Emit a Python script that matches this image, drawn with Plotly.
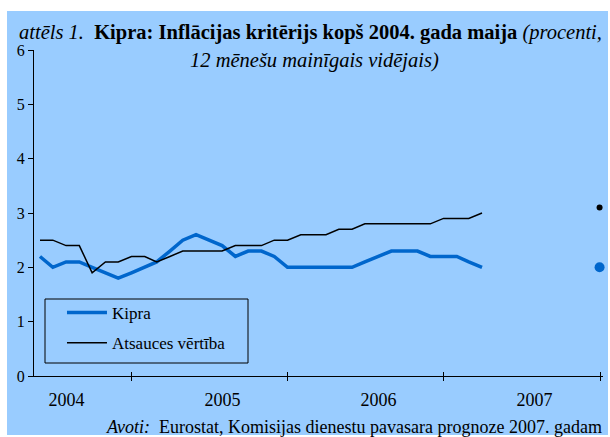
import pandas as pd
import plotly.graph_objects as go

# ---- data ----
months = pd.date_range("2004-05-31", periods=35, freq="ME")
kipra = [2.2, 2.0, 2.1, 2.1, 2.0, 1.9, 1.8, 1.9, 2.0, 2.1,
         2.3, 2.5, 2.6, 2.5, 2.4, 2.2, 2.3, 2.3, 2.2, 2.0,
         2.0, 2.0, 2.0, 2.0, 2.0, 2.1, 2.2, 2.3, 2.3, 2.3,
         2.2, 2.2, 2.2, 2.1, 2.0]
atsauces = [2.5, 2.5, 2.4, 2.4, 1.9, 2.1, 2.1, 2.2, 2.2, 2.1,
            2.2, 2.3, 2.3, 2.3, 2.3, 2.4, 2.4, 2.4, 2.5, 2.5,
            2.6, 2.6, 2.6, 2.7, 2.7, 2.8, 2.8, 2.8, 2.8, 2.8,
            2.8, 2.9, 2.9, 2.9, 3.0]
forecast_date = ["2007-12-31"]
kipra_forecast = [2.0]
atsauces_forecast = [3.1]
years = ["2004", "2005", "2006", "2007"]
year_starts = ["2005-01-01", "2006-01-01", "2007-01-01", "2008-01-01"]
year_label_pos = ["2004-08-01", "2005-08-01", "2006-08-01", "2007-08-01"]
y_ticks = [0, 1, 2, 3, 4, 5, 6]

BLUE = "#0066CC"
BG = "#99CCFF"
FONT = "Liberation Serif, Times New Roman, serif"

fig = go.Figure()
fig.add_trace(go.Scatter(x=months, y=kipra, mode="lines", name="Kipra",
                         line=dict(color=BLUE, width=3.5), legendgroup="a"))
fig.add_trace(go.Scatter(x=months, y=atsauces, mode="lines", name="Atsauces vērtība",
                         line=dict(color="black", width=1.5), legendgroup="b"))
fig.add_trace(go.Scatter(x=forecast_date, y=kipra_forecast, mode="markers",
                         marker=dict(color=BLUE, size=10), showlegend=False,
                         cliponaxis=False))
fig.add_trace(go.Scatter(x=forecast_date, y=atsauces_forecast, mode="markers",
                         marker=dict(color="black", size=6), showlegend=False,
                         cliponaxis=False))
# helper traces for the extra tick axes
fig.add_trace(go.Scatter(x=[], y=[], xaxis="x2", showlegend=False))
fig.add_trace(go.Scatter(x=[], y=[], xaxis="x3", showlegend=False))

xrange = ["2004-05-17", "2008-01-08"]

fig.update_layout(
    width=610, height=437,
    margin=dict(l=34, r=7, t=50, b=61),
    paper_bgcolor="white",
    plot_bgcolor="rgba(0,0,0,0)",
    font=dict(family=FONT, size=17, color="black"),
    showlegend=True,
    legend=dict(x=0.0193, y=(376 - 295) / 326, xanchor="left", yanchor="top",
                borderwidth=0, bgcolor="rgba(0,0,0,0)",
                font=dict(family=FONT, size=17), tracegroupgap=5,
                itemwidth=40, indentation=17),
    xaxis=dict(type="date", range=xrange, showline=True, linecolor="black",
               linewidth=1, showgrid=False, zeroline=False,
               tickmode="array", tickvals=year_label_pos, ticktext=years,
               ticks="", ticklabelstandoff=7,
               tickfont=dict(family=FONT, size=18)),
    xaxis2=dict(type="date", range=xrange, overlaying="x", matches="x",
                anchor="y", side="bottom", showgrid=False, zeroline=False,
                tickmode="array", tickvals=year_starts, ticks="outside",
                ticklen=4, tickcolor="black", showticklabels=False),
    xaxis3=dict(type="date", range=xrange, overlaying="x", matches="x",
                anchor="y", side="bottom", showgrid=False, zeroline=False,
                tickmode="array", tickvals=year_starts, ticks="inside",
                ticklen=4, tickcolor="black", showticklabels=False),
    yaxis=dict(range=[0, 6], tickvals=y_ticks, showline=True, linecolor="black",
               linewidth=1, showgrid=False, zeroline=False, ticks="outside",
               ticklen=5, tickcolor="black", tickfont=dict(family=FONT, size=16)),
    shapes=[
        dict(type="rect", xref="paper", yref="paper", layer="below",
             x0=(7 - 34) / 569, x1=(608 - 34) / 569,
             y0=(376 - 435) / 326, y1=(376 - 11) / 326,
             fillcolor=BG, line=dict(width=0)),
        dict(type="rect", xref="paper", yref="paper", layer="above",
             x0=(45 - 34) / 569, x1=(248 - 34) / 569,
             y0=(376 - 363) / 326, y1=(376 - 299) / 326,
             fillcolor="rgba(0,0,0,0)", line=dict(color="black", width=1)),
    ],
    annotations=[
        dict(xref="paper", yref="paper", x=(310 - 34) / 569, y=(376 - 32) / 326,
             xanchor="center", yanchor="middle", showarrow=False,
             text="<i>attēls 1.</i>  <b>Kipra: Inflācijas kritērijs kopš 2004. gada maija</b> <i>(procenti,</i>",
             font=dict(family=FONT, size=20.5)),
        dict(xref="paper", yref="paper", x=(314 - 34) / 569, y=(376 - 60) / 326,
             xanchor="center", yanchor="middle", showarrow=False,
             text="<i>12 mēnešu mainīgais vidējais)</i>",
             font=dict(family=FONT, size=20.5)),
        dict(xref="paper", yref="paper", x=(604 - 34) / 569, y=(376 - 427) / 326,
             xanchor="right", yanchor="middle", showarrow=False,
             text="<i>Avoti:</i>  Eurostat, Komisijas dienestu pavasara prognoze 2007. gadam",
             font=dict(family=FONT, size=18)),
    ],
)

fig.write_html("out.html", config={"displayModeBar": False},
               post_script="document.body.style.margin='0';document.body.style.overflow='hidden';")
